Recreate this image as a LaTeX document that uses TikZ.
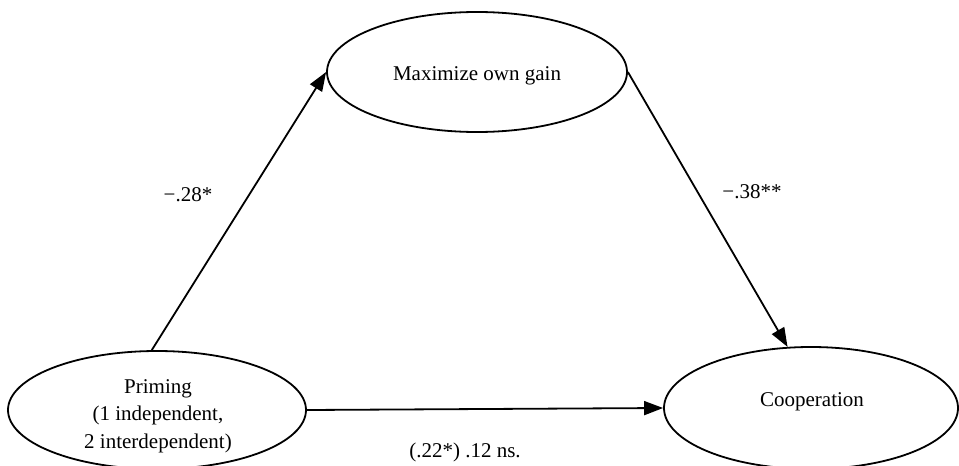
\documentclass[tikz,border=0pt]{standalone}
\usepackage{fontspec}
\setmainfont{Liberation Serif}
\usetikzlibrary{shapes.geometric,arrows.meta}
\tikzset{
  var/.style={draw, ellipse, line width=1.8pt, inner sep=0pt, align=center,
    font=\fontsize{21}{27.5}\selectfont},
  path/.style={line width=1.8pt, -{Triangle[length=19pt,width=14pt]}},
  coef/.style={font=\fontsize{21}{25}\selectfont, inner sep=0pt},
}
\begin{document}
\begin{tikzpicture}[x=1pt,y=-1pt]
  \useasboundingbox (0,0) rectangle (959,466);
  \clip (0,0) rectangle (959,466);
  % latent variables
  \node[var, minimum width=300pt, minimum height=120pt] (gain) at (477,72) {};
  \node at (477,76) [font=\fontsize{21}{25}\selectfont] {Maximize own gain};
  \node[var, minimum width=298pt, minimum height=118pt] (prime) at (157,410) {};
  \node at (158,416) [align=center, font=\fontsize{21}{27.5}\selectfont]
    {Priming\\(1 independent,\\2 interdependent)};
  \node[var, minimum width=294pt, minimum height=122pt] (coop) at (811,408) {};
  \node at (812,402) [font=\fontsize{21}{25}\selectfont] {Cooperation};
  % paths
  \draw[path] (prime.95) -- (gain.west);
  \draw[path] (gain.east) -- (coop.111);
  \draw[path] (prime.east) -- (coop.west);
  % coefficients
  \node[coef] (c1) at (188,195) {−.28*};
  \node[coef] (c2) at (752,192) {−.38**};
  \node[coef] (c3) at (465,452) {(.22*) .12 ns.};
\end{tikzpicture}
\end{document}
